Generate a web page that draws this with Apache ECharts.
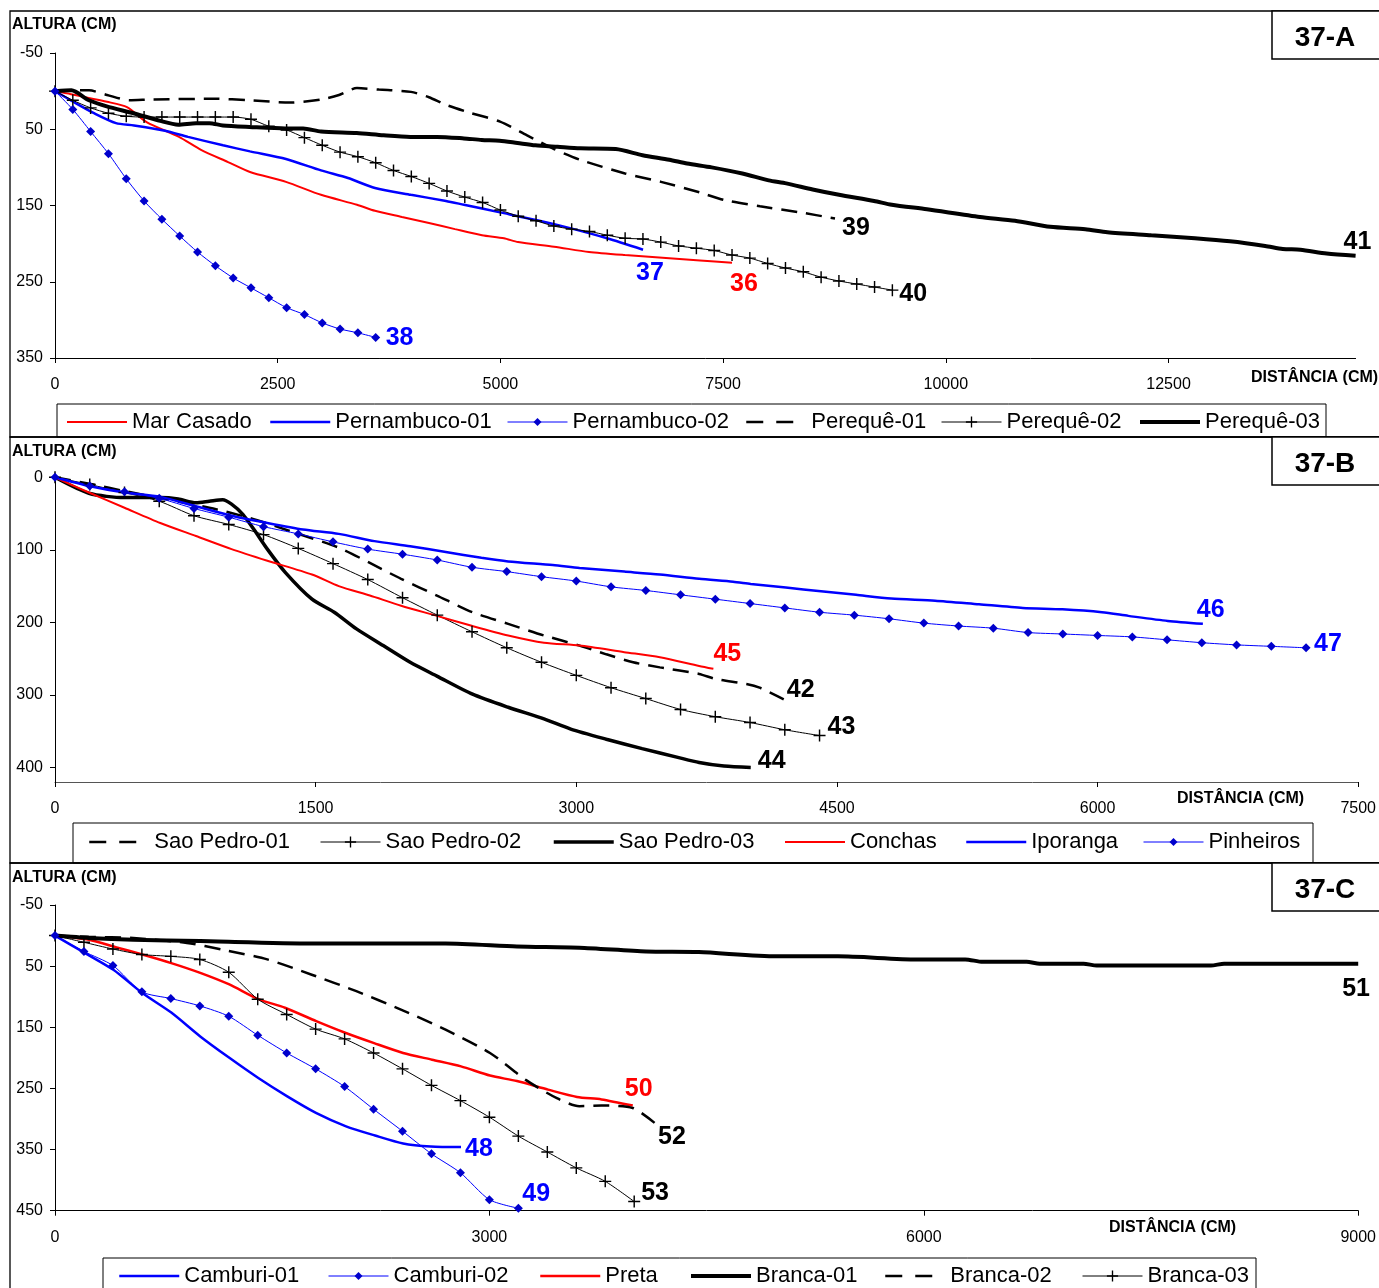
<!DOCTYPE html>
<html><head><meta charset="utf-8">
<script src="https://cdn.jsdelivr.net/npm/echarts@6/dist/echarts.min.js"></script>
<style>html,body{margin:0;padding:0;background:#fff}#c{width:1379px;height:1288px}</style>
</head><body><div id="c"></div>
<script>
// ---------- Panel 37-A (distance cm, height cm) ----------
const marCasado = [[0,0],[180,4],[584,14],[808,21],[1033,41],[1392,60],[1639,77],[1942,93],[2189,106],[2593,119],[2986,136],[3390,149],[3592,157],[3895,165],[4198,173],[4490,181],[4793,189],[5040,193],[5198,198],[5602,204],[5995,211],[6399,215],[7241,222],[7600,225]];
const pernambuco01 = [[0,0],[236,16],[438,29],[685,42],[887,45],[1235,52],[1493,60],[1886,71],[2189,79],[2593,89],[2986,104],[3289,114],[3592,127],[3996,136],[4389,144],[4591,149],[4996,159],[5400,169],[5792,180],[6197,193],[6601,208]];
const pernambuco02X = [0,200,400,600,800,1000,1200,1400,1600,1800,2000,2200,2400,2600,2800,3000,3200,3400,3600];
const pernambuco02Y = [0,24,53,82,115,144,168,190,211,229,245,258,271,284,293,304,312,317,323];
const pereque01 = [[0,0],[180,-1],[382,-1],[584,5],[836,12],[1089,11],[1785,10],[2189,12],[2638,15],[2986,11],[3188,5],[3390,-4],[3637,-2],[3996,1],[4198,8],[4389,18],[4647,28],[4996,40],[5299,58],[5602,76],[5893,90],[6399,108],[6803,119],[7241,133],[7521,143],[7914,151],[8363,159],[8756,167]];
const pereque02X = [0,200,400,600,800,1000,1200,1400,1600,1800,2000,2200,2400,2600,2800,3000,3200,3400,3600,3800,4000,4200,4400,4600,4800,5000,5200,5400,5600,5800,6000,6200,6400,6600,6800,7000,7200,7400,7600,7800,8000,8200,8400,8600,8800,9000,9200,9400];
const pereque02Y = [0,12,22,29,33,34,34,34,34,34,34,37,46,51,61,71,80,86,94,104,112,121,131,139,146,156,164,170,177,181,184,189,193,194,198,203,206,209,215,219,226,232,237,244,249,253,257,261];
const pereque03 = [[0,0],[184,-1],[381,12],[581,20],[881,29],[1182,39],[1383,44],[1583,42],[1733,42],[1884,45],[2184,47],[2585,49],[2786,49],[2986,53],[3387,55],[3688,58],[3988,60],[4289,60],[4590,62],[4790,64],[4991,65],[5192,68],[5392,71],[5642,73],[5894,75],[6295,76],[6595,84],[6896,90],[7096,95],[7371,100],[7716,108],[8012,117],[8209,121],[8505,129],[8801,136],[9195,144],[9393,149],[9788,155],[10383,165],[10777,170],[11172,178],[11566,181],[11813,185],[12306,189],[12796,193],[13190,197],[13585,203],[13782,207],[13980,208],[14275,213],[14600,216]];

// ---------- Panel 37-B ----------
const saoPedro01 = [[0,0],[221,10],[400,19],[888,42],[1119,56],[1376,76],[1633,97],[1812,118],[1992,140],[2198,163],[2403,186],[2608,202],[2814,218],[3019,232],[3173,244],[3327,255],[3481,262],[3707,271],[3802,278],[3979,285],[4055,290],[4194,306]];
const saoPedro02X = [0,200,400,600,800,1000,1200,1400,1600,1800,2000,2200,2400,2600,2800,3000,3200,3400,3600,3800,4000,4200,4400];
const saoPedro02Y = [0,10,21,33,53,65,79,98,119,141,166,190,213,235,255,273,290,305,320,330,338,348,356];
const saoPedro03 = [[0,0],[195,22],[400,28],[606,28],[709,30],[811,35],[888,33],[965,31],[1016,37],[1081,51],[1145,72],[1222,99],[1325,131],[1479,168],[1607,186],[1735,209],[1889,232],[2044,255],[2198,274],[2403,299],[2608,317],[2814,333],[2968,347],[3173,361],[3379,374],[3584,386],[3707,393],[3850,398],[4004,400]];
const conchas = [[0,0],[195,21],[400,42],[606,63],[811,81],[1016,99],[1222,115],[1479,134],[1633,150],[1812,163],[1992,177],[2198,191],[2403,205],[2608,218],[2814,228],[3019,232],[3276,241],[3481,248],[3707,260],[3789,264]];
const iporanga = [[0,0],[195,12],[400,21],[606,27],[811,40],[1016,53],[1222,63],[1427,72],[1633,78],[1838,88],[2044,95],[2249,103],[2454,111],[2608,116],[2865,121],[3019,125],[3276,130],[3481,134],[3707,140],[3902,144],[4004,147],[4206,152],[4408,157],[4610,162],[4812,167],[5065,170],[5318,175],[5570,180],[5798,182],[6025,186],[6177,191],[6404,198],[6606,202]];
const pinheirosX = [0,200,400,600,800,1000,1200,1400,1600,1800,2000,2200,2400,2600,2800,3000,3200,3400,3600,3800,4000,4200,4400,4600,4800,5000,5200,5400,5600,5800,6000,6200,6400,6600,6800,7000,7200];
const pinheirosY = [0,12,20,29,43,55,68,78,89,99,106,114,124,130,137,143,151,156,162,168,174,180,186,190,195,201,205,208,214,216,218,220,224,228,231,233,235];

// ---------- Panel 37-C ----------
const camburi01 = [[0,0],[203,28],[403,56],[603,94],[803,126],[1003,165],[1204,200],[1404,233],[1604,263],[1802,290],[2010,312],[2210,327],[2404,340],[2595,345],[2804,346]];
const camburi02X = [0,200,400,600,800,1000,1200,1400,1600,1800,2000,2200,2400,2600,2800,3000,3200];
const camburi02Y = [0,26,49,92,103,115,132,163,192,218,247,284,320,357,388,432,446];
const preta = [[0,0],[234,7],[419,19],[603,31],[803,45],[1003,61],[1204,80],[1404,104],[1588,118],[1804,140],[2004,159],[2204,176],[2404,192],[2604,203],[2804,214],[3004,229],[3190,238],[3405,252],[3605,264],[3774,268],[3990,278]];
const branca01 = [[0,0],[234,4],[541,7],[1003,9],[1773,13],[2697,13],[3190,18],[3621,20],[4082,26],[4446,27],[4983,34],[5407,34],[5952,39],[6286,39],[6407,43],[6710,43],[6801,46],[7103,46],[7194,49],[7983,49],[8074,46],[9000,46]];
const branca02 = [[0,0],[234,2],[541,4],[911,12],[1157,23],[1466,39],[1773,64],[2081,91],[2389,121],[2697,154],[3004,192],[3251,236],[3466,266],[3621,279],[3774,278],[3990,282],[4144,307]];
const branca03X = [0,200,400,600,800,1000,1200,1400,1600,1800,2000,2200,2400,2600,2800,3000,3200,3400,3600,3800,4000];
const branca03Y = [0,11,22,31,34,39,60,104,129,153,169,192,218,245,270,297,328,354,380,402,435];

// ---------- axes / labels ----------
const panelTags = ['37-A','37-B','37-C'];
const xMax = [14600, 7500, 9000];
const xInterval = [2500, 1500, 3000];
const yMin = [-50, 0, -50];
const yMax = [350, 420, 450];
const yInterval = [100, 100, 100];
const profileNumbers = {
  'Mar Casado':'36','Pernambuco-01':'37','Pernambuco-02':'38','Perequê-01':'39','Perequê-02':'40','Perequê-03':'41',
  'Sao Pedro-01':'42','Sao Pedro-02':'43','Sao Pedro-03':'44','Conchas':'45','Iporanga':'46','Pinheiros':'47',
  'Camburi-01':'48','Camburi-02':'49','Preta':'50','Branca-01':'51','Branca-02':'52','Branca-03':'53'
};

const FONT = "'Liberation Sans',Arial,sans-serif";
const RED = '#FF0000', BLUE = '#0000FF', MARK = '#0000CC', BLK = '#000000';
const PLUS = 'path://M4.4,0H5.6V4.4H10V5.6H5.6V10H4.4V5.6H0V4.4H4.4Z';
const DASH = [16, 9];
const LEGEND_DASH = [17, 13];
const zip = (xs, ys) => xs.map((x, i) => [x, ys[i]]);

// styling per series: grid, colour, width, dash, symbol, end-label offset
const sty = {
  'Mar Casado':    {g:0, c:RED,  w:2,   off:[-2,21]},
  'Pernambuco-01': {g:0, c:BLUE, w:2.5, off:[-7,23]},
  'Pernambuco-02': {g:0, c:BLUE, w:1,   sym:'diamond', ss:9, off:[10,1]},
  'Perequê-01':    {g:0, c:BLK,  w:2.5, dash:DASH, off:[7,10]},
  'Perequê-02':    {g:0, c:BLK,  w:1,   sym:PLUS, ss:12, off:[7,4]},
  'Perequê-03':    {g:0, c:BLK,  w:4,   off:[-12,-14]},
  'Sao Pedro-01':  {g:1, c:BLK,  w:2.5, dash:DASH, off:[3,-9]},
  'Sao Pedro-02':  {g:1, c:BLK,  w:1,   sym:PLUS, ss:12, off:[8,-8]},
  'Sao Pedro-03':  {g:1, c:BLK,  w:3.5, off:[7,-6]},
  'Conchas':       {g:1, c:RED,  w:2,   off:[0,-15]},
  'Iporanga':      {g:1, c:BLUE, w:2.5, off:[-6,-14]},
  'Pinheiros':     {g:1, c:BLUE, w:1,   sym:'diamond', ss:9, off:[8,-4]},
  'Camburi-01':    {g:2, c:BLUE, w:2.5, off:[4,2]},
  'Camburi-02':    {g:2, c:BLUE, w:1,   sym:'diamond', ss:9, off:[4,-14]},
  'Preta':         {g:2, c:RED,  w:2.5, off:[-8,-16]},
  'Branca-01':     {g:2, c:BLK,  w:4,   off:[-16,25]},
  'Branca-02':     {g:2, c:BLK,  w:2.5, dash:DASH, off:[3,14]},
  'Branca-03':     {g:2, c:BLK,  w:1,   sym:PLUS, ss:12, off:[7,-8]}
};

const seriesData = {
  'Mar Casado': marCasado, 'Pernambuco-01': pernambuco01, 'Pernambuco-02': zip(pernambuco02X, pernambuco02Y),
  'Perequê-01': pereque01, 'Perequê-02': zip(pereque02X, pereque02Y), 'Perequê-03': pereque03,
  'Sao Pedro-01': saoPedro01, 'Sao Pedro-02': zip(saoPedro02X, saoPedro02Y), 'Sao Pedro-03': saoPedro03,
  'Conchas': conchas, 'Iporanga': iporanga, 'Pinheiros': zip(pinheirosX, pinheirosY),
  'Camburi-01': camburi01, 'Camburi-02': zip(camburi02X, camburi02Y), 'Preta': preta,
  'Branca-01': branca01, 'Branca-02': branca02, 'Branca-03': zip(branca03X, branca03Y)
};

const series = Object.keys(sty).map(name => {
  const o = sty[name];
  return {
    name, type: 'line', data: seriesData[name], xAxisIndex: o.g, yAxisIndex: o.g,
    smooth: 0.25,
    symbol: o.sym || 'none', symbolSize: o.ss || 0, showSymbol: !!o.sym,
    lineStyle: {color: o.c, width: o.w, type: o.dash || 'solid'},
    itemStyle: {color: o.sym === 'diamond' ? MARK : o.c},
    emphasis: {disabled: true},
    endLabel: {
      show: true, formatter: profileNumbers[name], distance: 0, offset: o.off,
      align: 'left', verticalAlign: 'middle',
      fontSize: 25, fontWeight: 'bold', fontFamily: FONT, color: o.c
    },
    z: o.sym === 'diamond' ? 3 : 2
  };
});

const grids = [
  {left: 55, top: 53, width: 1300.6, height: 305},
  {left: 55, top: 477.3, width: 1304, height: 304.7},
  {left: 55, top: 905, width: 1305, height: 305.7}
];

const xAxes = [0, 1, 2].map(i => ({
  gridIndex: i, type: 'value', min: 0, max: xMax[i], interval: xInterval[i],
  axisLine: {show: true, onZero: false, lineStyle: {color: i === 1 ? '#555' : '#000', width: 1}},
  axisTick: {show: true, length: 5, lineStyle: {color: '#000'}},
  splitLine: {show: false},
  axisLabel: {fontSize: 16, color: '#000', fontFamily: FONT, margin: 19, showMaxLabel: i !== 0,
              formatter: v => String(v)}
}));
const yAxes = [0, 1, 2].map(i => ({
  gridIndex: i, type: 'value', inverse: true, min: yMin[i], max: yMax[i], interval: yInterval[i],
  axisLine: {show: true, onZero: false, lineStyle: {color: '#000', width: 1}},
  axisTick: {show: true, length: 5, inside: false, lineStyle: {color: '#000'}},
  splitLine: {show: false},
  axisLabel: {fontSize: 16, color: '#000', fontFamily: FONT, margin: 12, showMaxLabel: i !== 1,
              padding: [3, 0, 0, 0], formatter: v => String(v)}
}));

// one legend per entry, placed where the original legend rows sit
const legendRows = [
  ['Mar Casado','Pernambuco-01','Pernambuco-02','Perequê-01','Perequê-02','Perequê-03'],
  ['Sao Pedro-01','Sao Pedro-02','Sao Pedro-03','Conchas','Iporanga','Pinheiros'],
  ['Camburi-01','Camburi-02','Preta','Branca-01','Branca-02','Branca-03']
];
const legendLeft = [[66,269,507,745,941,1138],[88,320,552,784,965,1143],[118,328,539,689,884,1082]];
const legendTop = [411, 831, 1265];
const legends = [];
legendRows.forEach((row, r) => row.forEach((name, k) => {
  const o = sty[name];
  const item = {name, lineStyle: {width: o.w, type: o.dash ? LEGEND_DASH : 'solid'}};
  if (!o.sym) item.itemStyle = {opacity: 0};
  legends.push({
    data: [item], left: legendLeft[r][k], top: legendTop[r], orient: 'horizontal',
    itemWidth: 60, itemHeight: o.sym === PLUS ? 14 : 10, padding: 0, selectedMode: false,
    textStyle: {fontSize: 22, color: '#000', fontFamily: FONT}
  });
}));

// frame graphics
const panelTop = [11, 437, 863];
const panelBot = [437, 863, 1300];
const legendBox = [[57, 404, 1326, 437], [73, 823, 1313, 863], [103, 1258, 1256, 1300]];
const yTitleY = [25, 452, 878];
const xTitle = [[1251, 378], [1177, 799], [1109, 1228]];
const graphic = [];
for (let i = 0; i < 3; i++) {
  graphic.push({type: 'rect', shape: {x: 10, y: panelTop[i], width: 1400, height: panelBot[i] - panelTop[i]}, style: {fill: 'none', stroke: '#000', lineWidth: 1.3}, z: 0});
  graphic.push({type: 'rect', shape: {x: 1272, y: panelTop[i], width: 120, height: 48}, style: {fill: '#fff', stroke: '#000', lineWidth: 1.5}, z: 1});
  graphic.push({type: 'text', x: 1325, y: panelTop[i] + 27, style: {text: panelTags[i], fontSize: 28, fontWeight: 'bold', fontFamily: FONT, fill: '#000', align: 'center', verticalAlign: 'middle'}, z: 2});
  const b = legendBox[i];
  graphic.push({type: 'rect', shape: {x: b[0], y: b[1], width: b[2] - b[0], height: b[3] - b[1]}, style: {fill: 'none', stroke: '#000', lineWidth: 1}, z: 1});
  graphic.push({type: 'text', x: 12, y: yTitleY[i], style: {text: 'ALTURA (CM)', fontSize: 16, fontWeight: 'bold', fontFamily: FONT, fill: '#000', verticalAlign: 'middle'}, z: 2});
  graphic.push({type: 'text', x: xTitle[i][0], y: xTitle[i][1], style: {text: 'DISTÂNCIA (CM)', fontSize: 16, fontWeight: 'bold', fontFamily: FONT, fill: '#000', verticalAlign: 'middle'}, z: 2});
}

const chart = echarts.init(document.getElementById('c'), null, {renderer: 'canvas'});
chart.setOption({
  animation: false,
  backgroundColor: '#fff',
  grid: grids,
  xAxis: xAxes,
  yAxis: yAxes,
  legend: legends,
  series: series,
  graphic: graphic
});
</script>
</body></html>
